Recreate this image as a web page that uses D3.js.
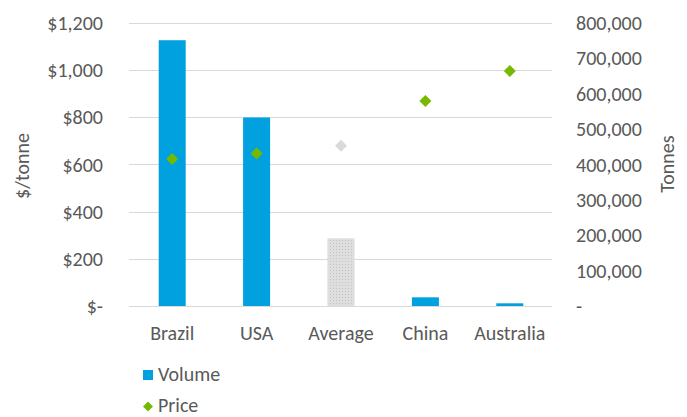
<!DOCTYPE html>
<html>
<head>
<meta charset="utf-8">
<script src="https://cdn.jsdelivr.net/npm/d3@7"></script>
<style>
  html, body { margin: 0; padding: 0; background: #fff; }
  svg { display: block; font-family: Carlito, Lato, sans-serif; }
</style>
</head>
<body>
<svg id="chart" width="687" height="417"></svg>
<script>
const categories = ["Brazil", "USA", "Average", "China", "Australia"];
const volumeTonnes = [750000, 532000, 191000, 24500, 7600];
const pricePerTonne = [622, 646, 678, 868, 995];
const highlighted = ["Average"];
const priceTicks = [0, 200, 400, 600, 800, 1000, 1200];
const volumeTicks = [0, 100000, 200000, 300000, 400000, 500000, 600000, 700000, 800000];
const legendItems = ["Volume", "Price"];

const W = 687, H = 417;
const m = { left: 130, right: 135, top: 22.5, bottom: 111 };
const textColor = "#595959";
const blue = "#00A1DE";
const green = "#76B900";
const grey = "#d9d9d9";
const fontSize = 20;

const svg = d3.select("#chart");

const defs = svg.append("defs");
const pat = defs.append("pattern").attr("id", "dots")
  .attr("width", 3).attr("height", 3).attr("patternUnits", "userSpaceOnUse");
pat.append("rect").attr("width", 3).attr("height", 3).attr("fill", "#dedede");
pat.append("rect").attr("width", 1).attr("height", 1).attr("fill", "#c4c4c4");

const x = d3.scaleBand().domain(categories)
  .range([m.left, W - m.right]).paddingInner(0.68).paddingOuter(0.34);
const yL = d3.scaleLinear().domain([0, 1200]).range([H - m.bottom, m.top]);
const yR = d3.scaleLinear().domain([0, 800000]).range([H - m.bottom, m.top]);

// gridlines
svg.append("g").selectAll("line").data(priceTicks).join("line")
  .attr("x1", m.left - 1).attr("x2", W - m.right)
  .attr("y1", d => Math.round(yL(d)) + 0.5).attr("y2", d => Math.round(yL(d)) + 0.5)
  .attr("stroke", grey).attr("stroke-width", 1);

// left axis
const fmtL = d => d === 0 ? "$-" : "$" + d3.format(",")(d);
const axL = svg.append("g").attr("transform", `translate(${m.left - 27},0)`)
  .call(d3.axisLeft(yL).tickValues(priceTicks).tickFormat(fmtL).tickSize(0).tickPadding(0));
axL.select(".domain").remove();
axL.selectAll("text").attr("fill", textColor).style("font-size", fontSize + "px")
  .style("font-family", "Carlito, Lato, sans-serif").attr("dy", "0.34em");

// right axis
const fmtR = d => d === 0 ? "-" : d3.format(",")(d);
const axR = svg.append("g").attr("transform", `translate(${W - m.right + 24},0)`)
  .call(d3.axisRight(yR).tickValues(volumeTicks).tickFormat(fmtR).tickSize(0).tickPadding(0));
axR.select(".domain").remove();
axR.selectAll("text").attr("fill", textColor).style("font-size", fontSize + "px")
  .style("font-family", "Carlito, Lato, sans-serif").attr("dy", "0.34em");

// x axis labels
const axX = svg.append("g").attr("transform", `translate(0,${H - m.bottom + 20})`)
  .call(d3.axisBottom(x).tickSize(0).tickPadding(0));
axX.select(".domain").remove();
axX.selectAll("text").attr("fill", textColor).style("font-size", fontSize + "px")
  .style("font-family", "Carlito, Lato, sans-serif").attr("dy", "0.71em");

// axis titles
svg.append("text").attr("transform", `translate(29,166) rotate(-90)`)
  .attr("text-anchor", "middle").attr("fill", textColor)
  .style("font-size", fontSize + "px").text("$/tonne");
svg.append("text").attr("transform", `translate(674,164) rotate(-90)`)
  .attr("text-anchor", "middle").attr("fill", textColor)
  .style("font-size", fontSize + "px").text("Tonnes");

// bars
svg.append("g").selectAll("rect").data(categories).join("rect")
  .attr("x", d => x(d))
  .attr("width", x.bandwidth())
  .attr("y", (d, i) => yR(volumeTonnes[i]))
  .attr("height", (d, i) => yR(0) - yR(volumeTonnes[i]))
  .attr("fill", d => highlighted.includes(d) ? "url(#dots)" : blue);

// price diamonds
const diamond = d3.symbol().type(d3.symbolSquare).size(72);
svg.append("g").selectAll("path").data(categories).join("path")
  .attr("d", diamond)
  .attr("transform", (d, i) => `translate(${x(d) + x.bandwidth() / 2},${yL(pricePerTonne[i])}) rotate(45)`)
  .attr("fill", d => highlighted.includes(d) ? grey : green);

// legend
const lg = svg.append("g");
lg.append("rect").attr("x", 143).attr("y", 370).attr("width", 10).attr("height", 10).attr("fill", blue);
lg.append("path").attr("d", d3.symbol().type(d3.symbolSquare).size(50))
  .attr("transform", "translate(148,406.5) rotate(45)").attr("fill", green);
lg.selectAll("text").data(legendItems).join("text")
  .attr("x", 158).attr("y", (d, i) => 381 + i * 31)
  .attr("fill", textColor).style("font-size", fontSize + "px").text(d => d);
</script>
</body>
</html>
